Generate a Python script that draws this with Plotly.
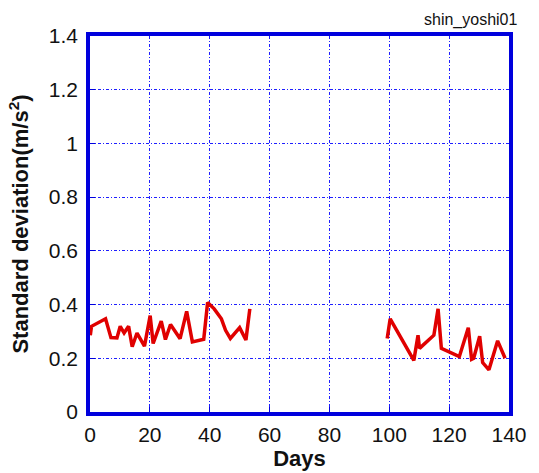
import plotly.graph_objects as go

# Data (days, standard deviation m/s^2); None separates the two recording periods
days = [0.1, 0.5, 5.2, 7.0, 9.0, 10.1, 11.4, 12.9, 14.1, 15.7, 18.2, 20.1, 21.1, 23.8, 25.2,
        26.9, 30.1, 32.3, 34.2, 38.0, 39.3, 41.5, 43.9, 45.3, 46.9, 50.0, 52.1, 53.4,
        None,
        99.3, 100.3, 108.2, 109.6, 110.1, 114.9, 116.3, 117.4, 123.4, 126.4, 127.5,
        128.2, 130.2, 131.2, 133.3, 136.2, 138.7]
stdev = [0.286, 0.319, 0.347, 0.277, 0.276, 0.319, 0.294, 0.319, 0.243, 0.294, 0.245, 0.359,
         0.255, 0.338, 0.270, 0.326, 0.273, 0.375, 0.261, 0.271, 0.408, 0.384, 0.347, 0.304,
         0.274, 0.314, 0.268, 0.384,
         None,
         0.274, 0.347, 0.192, 0.286, 0.237, 0.286, 0.384, 0.237, 0.206, 0.314, 0.196,
         0.200, 0.282, 0.184, 0.157, 0.265, 0.200]

title_text = "shin_yoshi01"
x_label = "Days"
y_label = "Standard deviation(m/s<sup>2</sup>)"

FONT = "Liberation Sans, Arial, sans-serif"
BLUE = "#0000dd"
GRID = "#1f1fff"

fig = go.Figure()
fig.add_trace(go.Scatter(x=days, y=stdev, mode="lines", connectgaps=False,
                         line=dict(color="#e00000", width=3.5), showlegend=False))

axis_common = dict(
    showline=True, linecolor=BLUE, linewidth=3.5, mirror=True,
    showgrid=True, gridcolor=GRID, gridwidth=1, griddash="3px,2px,1px,2px",
    zeroline=False, ticks="inside", ticklen=5, tickcolor=BLUE, tickwidth=1,
    tickfont=dict(family=FONT, size=21, color="#111111"),
)

fig.update_xaxes(range=[0, 140], dtick=20, tick0=0, ticklabelstandoff=1,
                 title=dict(text=x_label, font=dict(family=FONT, size=22, color="#111111", weight="bold"),
                            standoff=0),
                 **axis_common)
fig.update_yaxes(range=[0, 1.4], dtick=0.2, tick0=0, ticklabelstandoff=4,
                 title=dict(text=y_label, font=dict(family=FONT, size=22, color="#111111", weight="bold"),
                            standoff=15),
                 **axis_common)

fig.add_annotation(text=title_text, xref="paper", yref="paper", x=1.0, y=1.0,
                   xanchor="right", yanchor="bottom", xshift=11, yshift=5, showarrow=False,
                   font=dict(family=FONT, size=16, color="#111111"))

fig.update_layout(width=539, height=473, margin=dict(l=90, r=24, t=36, b=51),
                  paper_bgcolor="white", plot_bgcolor="white")

fig.write_html("out.html")
